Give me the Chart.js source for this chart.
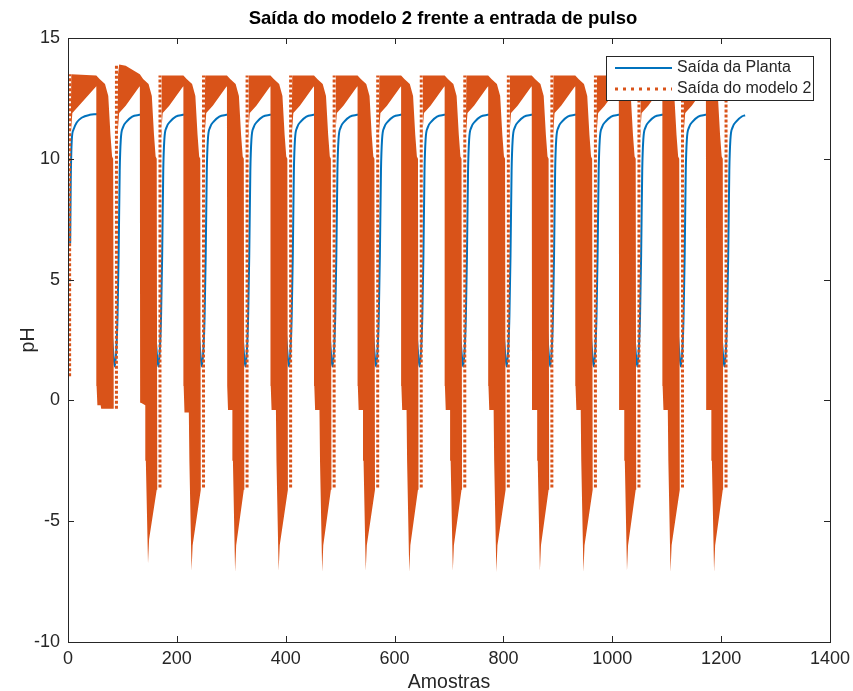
<!DOCTYPE html>
<html>
<head>
<meta charset="utf-8">
<script src="https://cdn.jsdelivr.net/npm/chart.js@4.4.1/dist/chart.umd.min.js"></script>
<style>
  html, body { margin: 0; padding: 0; background: #fff; }
  canvas { display: block; }
</style>
</head>
<body>
<canvas id="grafico" width="853" height="691"></canvas>
<script>
// Eixos
const ticksX = [0, 200, 400, 600, 800, 1000, 1200, 1400];
const ticksY = [-10, -5, 0, 5, 10, 15];

// Saída da Planta (amostra, pH), um ciclo por linha
const plantaX = [
  4, 5, 7, 10, 16, 25, 40, 59, 63, 67, 71, 75, 79, 83,
  86, 89, 91, 93, 95, 97, 101, 108, 118, 131, 139, 143, 147, 151, 155, 159, 163,
  166, 169, 171, 173, 175, 177, 181, 188, 198, 211, 219, 223, 227, 231, 235, 239, 243,
  246, 249, 251, 253, 255, 257, 261, 268, 278, 291, 299, 303, 307, 311, 315, 319, 323,
  326, 329, 331, 333, 335, 337, 341, 348, 358, 371, 379, 383, 387, 391, 395, 399, 403,
  406, 409, 411, 413, 415, 417, 421, 428, 438, 451, 459, 463, 467, 471, 475, 479, 483,
  486, 489, 491, 493, 495, 497, 501, 508, 518, 531, 539, 543, 547, 551, 555, 559, 563,
  566, 569, 571, 573, 575, 577, 581, 588, 598, 611, 619, 623, 627, 631, 635, 639, 643,
  646, 649, 651, 653, 655, 657, 661, 668, 678, 691, 699, 703, 707, 711, 715, 719, 723,
  726, 729, 731, 733, 735, 737, 741, 748, 758, 771, 779, 783, 787, 791, 795, 799, 803,
  806, 809, 811, 813, 815, 817, 821, 828, 838, 851, 859, 863, 867, 871, 875, 879, 883,
  886, 889, 891, 893, 895, 897, 901, 908, 918, 931, 939, 943, 947, 951, 955, 959, 963,
  966, 969, 971, 973, 975, 977, 981, 988, 998, 1011, 1019, 1023, 1027, 1031, 1035, 1039, 1043,
  1046, 1049, 1051, 1053, 1055, 1057, 1061, 1068, 1078, 1091, 1099, 1103, 1107, 1111, 1115, 1119, 1123,
  1126, 1129, 1131, 1133, 1135, 1137, 1141, 1148, 1158, 1171, 1179, 1183, 1187, 1191, 1195, 1199, 1203,
  1206, 1209, 1211, 1213, 1215, 1217, 1221, 1228, 1238, 1244
];
const plantaY = [
  6.5, 9.0, 10.8, 11.2, 11.5, 11.7, 11.82, 11.85, 11.3, 10.0, 8.0, 5.5, 3.3, 2.0,
  1.4, 2.2, 3.5, 6.0, 9.5, 10.8, 11.3, 11.55, 11.75, 11.82, 11.85, 11.3, 10.0, 8.0, 5.5, 3.3, 2.0,
  1.4, 2.2, 3.5, 6.0, 9.5, 10.8, 11.3, 11.55, 11.75, 11.82, 11.85, 11.3, 10.0, 8.0, 5.5, 3.3, 2.0,
  1.4, 2.2, 3.5, 6.0, 9.5, 10.8, 11.3, 11.55, 11.75, 11.82, 11.85, 11.3, 10.0, 8.0, 5.5, 3.3, 2.0,
  1.4, 2.2, 3.5, 6.0, 9.5, 10.8, 11.3, 11.55, 11.75, 11.82, 11.85, 11.3, 10.0, 8.0, 5.5, 3.3, 2.0,
  1.4, 2.2, 3.5, 6.0, 9.5, 10.8, 11.3, 11.55, 11.75, 11.82, 11.85, 11.3, 10.0, 8.0, 5.5, 3.3, 2.0,
  1.4, 2.2, 3.5, 6.0, 9.5, 10.8, 11.3, 11.55, 11.75, 11.82, 11.85, 11.3, 10.0, 8.0, 5.5, 3.3, 2.0,
  1.4, 2.2, 3.5, 6.0, 9.5, 10.8, 11.3, 11.55, 11.75, 11.82, 11.85, 11.3, 10.0, 8.0, 5.5, 3.3, 2.0,
  1.4, 2.2, 3.5, 6.0, 9.5, 10.8, 11.3, 11.55, 11.75, 11.82, 11.85, 11.3, 10.0, 8.0, 5.5, 3.3, 2.0,
  1.4, 2.2, 3.5, 6.0, 9.5, 10.8, 11.3, 11.55, 11.75, 11.82, 11.85, 11.3, 10.0, 8.0, 5.5, 3.3, 2.0,
  1.4, 2.2, 3.5, 6.0, 9.5, 10.8, 11.3, 11.55, 11.75, 11.82, 11.85, 11.3, 10.0, 8.0, 5.5, 3.3, 2.0,
  1.4, 2.2, 3.5, 6.0, 9.5, 10.8, 11.3, 11.55, 11.75, 11.82, 11.85, 11.3, 10.0, 8.0, 5.5, 3.3, 2.0,
  1.4, 2.2, 3.5, 6.0, 9.5, 10.8, 11.3, 11.55, 11.75, 11.82, 11.85, 11.3, 10.0, 8.0, 5.5, 3.3, 2.0,
  1.4, 2.2, 3.5, 6.0, 9.5, 10.8, 11.3, 11.55, 11.75, 11.82, 11.85, 11.3, 10.0, 8.0, 5.5, 3.3, 2.0,
  1.4, 2.2, 3.5, 6.0, 9.5, 10.8, 11.3, 11.55, 11.75, 11.82, 11.85, 11.3, 10.0, 8.0, 5.5, 3.3, 2.0,
  1.4, 2.2, 3.5, 6.0, 9.5, 10.8, 11.3, 11.55, 11.75, 11.8
];

// Saída do modelo 2: a oscilação é tão densa que vira faixa - envelope superior
const modeloTopoX = [
  5, 6, 52, 58, 68, 74, 78, 81, 83, 84,
  91, 92, 94, 106, 132, 138, 148, 154, 158, 161, 163, 164,
  171, 172, 212, 218, 228, 234, 238, 241, 243, 244,
  251, 252, 292, 298, 308, 314, 318, 321, 323, 324,
  331, 332, 372, 378, 388, 394, 398, 401, 403, 404,
  411, 412, 452, 458, 468, 474, 478, 481, 483, 484,
  491, 492, 532, 538, 548, 554, 558, 561, 563, 564,
  571, 572, 612, 618, 628, 634, 638, 641, 643, 644,
  651, 652, 692, 698, 708, 714, 718, 721, 723, 724,
  731, 732, 772, 778, 788, 794, 798, 801, 803, 804,
  811, 812, 852, 858, 868, 874, 878, 881, 883, 884,
  891, 892, 932, 938, 948, 954, 958, 961, 963, 964,
  971, 972, 1012, 1018, 1028, 1034, 1038, 1041, 1043, 1044,
  1051, 1052, 1092, 1098, 1108, 1114, 1118, 1121, 1123, 1124,
  1131, 1132, 1172, 1178, 1188, 1194, 1198, 1201, 1203, 1204
];
const modeloTopoY = [
  11.0, 13.5, 13.45, 13.3, 13.1, 12.6, 11.0, 10.1, 10.0, -0.35,
  11.0, 13.5, 13.9, 13.85, 13.5, 13.3, 13.1, 12.6, 11.0, 10.1, 10.0, -3.7,
  11.0, 13.45, 13.45, 13.3, 13.1, 12.6, 11.0, 10.1, 10.0, -3.7,
  11.0, 13.45, 13.45, 13.3, 13.1, 12.6, 11.0, 10.1, 10.0, -3.7,
  11.0, 13.45, 13.45, 13.3, 13.1, 12.6, 11.0, 10.1, 10.0, -3.7,
  11.0, 13.45, 13.45, 13.3, 13.1, 12.6, 11.0, 10.1, 10.0, -3.7,
  11.0, 13.45, 13.45, 13.3, 13.1, 12.6, 11.0, 10.1, 10.0, -3.7,
  11.0, 13.45, 13.45, 13.3, 13.1, 12.6, 11.0, 10.1, 10.0, -3.7,
  11.0, 13.45, 13.45, 13.3, 13.1, 12.6, 11.0, 10.1, 10.0, -3.7,
  11.0, 13.45, 13.45, 13.3, 13.1, 12.6, 11.0, 10.1, 10.0, -3.7,
  11.0, 13.45, 13.45, 13.3, 13.1, 12.6, 11.0, 10.1, 10.0, -3.7,
  11.0, 13.45, 13.45, 13.3, 13.1, 12.6, 11.0, 10.1, 10.0, -3.7,
  11.0, 13.45, 13.45, 13.3, 13.1, 12.6, 11.0, 10.1, 10.0, -3.7,
  11.0, 13.45, 13.45, 13.3, 13.1, 12.6, 11.0, 10.1, 10.0, -3.7,
  11.0, 13.45, 13.45, 13.3, 13.1, 12.6, 11.0, 10.1, 10.0, -3.7
];

// envelope inferior (com as pontas de cerca de -7)
const modeloBaseX = [
  5, 8, 20, 50, 52, 52.5, 54, 60, 61, 83, 84,
  91, 94, 106, 130, 132, 132.5, 134, 142, 143, 147, 149, 163, 164,
  171, 174, 186, 210, 212, 212.5, 214, 222, 223, 227, 229, 243, 244,
  251, 254, 266, 290, 292, 292.5, 294, 302, 303, 307, 309, 323, 324,
  331, 334, 346, 370, 372, 372.5, 374, 382, 383, 387, 389, 403, 404,
  411, 414, 426, 450, 452, 452.5, 454, 462, 463, 467, 469, 483, 484,
  491, 494, 506, 530, 532, 532.5, 534, 542, 543, 547, 549, 563, 564,
  571, 574, 586, 610, 612, 612.5, 614, 622, 623, 627, 629, 643, 644,
  651, 654, 666, 690, 692, 692.5, 694, 702, 703, 707, 709, 723, 724,
  731, 734, 746, 770, 772, 772.5, 774, 782, 783, 787, 789, 803, 804,
  811, 814, 826, 850, 852, 852.5, 854, 862, 863, 867, 869, 883, 884,
  891, 894, 906, 930, 932, 932.5, 934, 942, 943, 947, 949, 963, 964,
  971, 974, 986, 1010, 1012, 1012.5, 1014, 1022, 1023, 1027, 1029, 1043, 1044,
  1051, 1054, 1066, 1090, 1092, 1092.5, 1094, 1102, 1103, 1107, 1109, 1123, 1124,
  1131, 1134, 1146, 1170, 1172, 1172.5, 1174, 1182, 1183, 1187, 1189, 1203, 1204
];
const modeloBaseY = [
  11.0, 11.9, 12.2, 12.95, 13.0, 0.6, -0.2, -0.2, -0.35, -0.35, -0.35,
  11.0, 11.9, 12.2, 12.95, 13.0, 0.6, -0.1, -0.2, -2.5, -6.75, -5.75, -3.7, -3.7,
  11.0, 11.9, 12.2, 12.95, 13.0, 0.6, -0.5, -0.5, -2.5, -7.05, -6.0, -3.7, -3.7,
  11.0, 11.9, 12.2, 12.95, 13.0, 0.6, -0.4, -0.4, -2.5, -7.1, -6.0, -3.7, -3.7,
  11.0, 11.9, 12.2, 12.95, 13.0, 0.6, -0.4, -0.4, -2.5, -7.05, -6.0, -3.7, -3.7,
  11.0, 11.9, 12.2, 12.95, 13.0, 0.6, -0.4, -0.4, -2.5, -7.1, -6.0, -3.7, -3.7,
  11.0, 11.9, 12.2, 12.95, 13.0, 0.6, -0.4, -0.4, -2.5, -7.05, -6.0, -3.7, -3.7,
  11.0, 11.9, 12.2, 12.95, 13.0, 0.6, -0.4, -0.4, -2.5, -7.1, -6.0, -3.7, -3.7,
  11.0, 11.9, 12.2, 12.95, 13.0, 0.6, -0.4, -0.4, -2.5, -7.05, -6.0, -3.7, -3.7,
  11.0, 11.9, 12.2, 12.95, 13.0, 0.6, -0.4, -0.4, -2.5, -7.1, -6.0, -3.7, -3.7,
  11.0, 11.9, 12.2, 12.95, 13.0, 0.6, -0.4, -0.4, -2.5, -7.05, -6.0, -3.7, -3.7,
  11.0, 11.9, 12.2, 12.95, 13.0, 0.6, -0.4, -0.4, -2.5, -7.1, -6.0, -3.7, -3.7,
  11.0, 11.9, 12.2, 12.95, 13.0, 0.6, -0.4, -0.4, -2.5, -7.05, -6.0, -3.7, -3.7,
  11.0, 11.9, 12.2, 12.95, 13.0, 0.6, -0.4, -0.4, -2.5, -7.1, -6.0, -3.7, -3.7,
  11.0, 11.9, 12.2, 12.95, 13.0, 0.6, -0.4, -0.4, -2.5, -7.1, -6.0, -3.7, -3.7
];

// subidas pontilhadas do modelo no início de cada pulso
const subidaX = [3, 89, 169, 249, 329, 409, 489, 569, 649, 729, 809, 889, 969, 1049, 1129, 1209];
const subidaBase = [1.0, -0.35, -3.6, -3.6, -3.6, -3.6, -3.6, -3.6, -3.6, -3.6, -3.6, -3.6, -3.6, -3.6, -3.6, -3.6];
const subidaTopo = [13.5, 13.9, 13.45, 13.45, 13.45, 13.45, 13.45, 13.45, 13.45, 13.45, 13.45, 13.45, 13.45, 13.45, 13.45, 12.5];

const titulo = 'Saída do modelo 2 frente a entrada de pulso';
const nomesSeries = ['Saída da Planta', 'Saída do modelo 2'];

const AZUL = '#0072BD';
const LARANJA = '#D95319';
const EIXO = '#262626';
const FONTE = "'Liberation Sans', Arial, Helvetica, sans-serif";

Chart.defaults.font.family = FONTE;

const pares = (xs, ys) => xs.map((x, i) => ({ x: x, y: ys[i] }));
const subidas = [];
subidaX.forEach((x, i) => {
  subidas.push({ x: x, y: subidaBase[i] }, { x: x, y: subidaTopo[i] }, { x: x + 0.5, y: null });
});

// caixa do eixo com ticks para dentro (estilo MATLAB), título e legenda
const molduraPlugin = {
  id: 'moldura',
  afterDraw(chart) {
    const { ctx, chartArea: a, scales } = chart;
    ctx.save();
    ctx.strokeStyle = EIXO;
    ctx.lineWidth = 1;
    ctx.strokeRect(Math.round(a.left) + 0.5, Math.round(a.top) + 0.5,
      Math.round(a.right - a.left), Math.round(a.bottom - a.top));
    ctx.beginPath();
    ticksX.forEach(v => {
      const px = Math.round(scales.x.getPixelForValue(v)) + 0.5;
      ctx.moveTo(px, a.bottom); ctx.lineTo(px, a.bottom - 6);
      ctx.moveTo(px, a.top); ctx.lineTo(px, a.top + 6);
    });
    ticksY.forEach(v => {
      const py = Math.round(scales.y.getPixelForValue(v)) + 0.5;
      ctx.moveTo(a.left, py); ctx.lineTo(a.left + 6, py);
      ctx.moveTo(a.right, py); ctx.lineTo(a.right - 6, py);
    });
    ctx.stroke();

    // título
    ctx.fillStyle = '#000';
    ctx.font = 'bold 18.5px ' + FONTE;
    ctx.textAlign = 'center';
    ctx.textBaseline = 'middle';
    ctx.fillText(titulo, 443, 19);

    // legenda
    const lx = 606.5, ly = 56.5, lw = 207, lh = 44;
    ctx.fillStyle = '#fff';
    ctx.fillRect(lx, ly, lw, lh);
    ctx.strokeStyle = EIXO;
    ctx.strokeRect(lx, ly, lw, lh);
    ctx.lineWidth = 2;
    ctx.strokeStyle = AZUL;
    ctx.beginPath(); ctx.moveTo(615, 68); ctx.lineTo(672, 68); ctx.stroke();
    ctx.lineWidth = 3;
    ctx.strokeStyle = LARANJA;
    ctx.setLineDash([3, 5]);
    ctx.beginPath(); ctx.moveTo(615, 89); ctx.lineTo(672, 89); ctx.stroke();
    ctx.setLineDash([]);
    ctx.fillStyle = EIXO;
    ctx.font = '16px ' + FONTE;
    ctx.textAlign = 'left';
    ctx.fillText(nomesSeries[0], 677, 68);
    ctx.fillText(nomesSeries[1], 677, 89);
    ctx.restore();
  }
};

new Chart(document.getElementById('grafico'), {
  type: 'line',
  data: {
    datasets: [
      {
        label: nomesSeries[0],
        data: pares(plantaX, plantaY),
        borderColor: AZUL,
        borderWidth: 2,
        pointRadius: 0,
        cubicInterpolationMode: 'monotone',
        fill: false,
        order: 3
      },
      {
        label: nomesSeries[1],
        data: pares(modeloTopoX, modeloTopoY),
        borderColor: 'rgba(0,0,0,0)',
        borderWidth: 0,
        backgroundColor: LARANJA,
        pointRadius: 0,
        fill: '+1',
        order: 2
      },
      {
        label: 'base',
        data: pares(modeloBaseX, modeloBaseY),
        borderColor: 'rgba(0,0,0,0)',
        borderWidth: 0,
        pointRadius: 0,
        fill: false,
        order: 2
      },
      {
        label: 'subida',
        data: subidas,
        borderColor: LARANJA,
        borderWidth: 3,
        borderDash: [3, 2],
        pointRadius: 0,
        spanGaps: false,
        fill: false,
        order: 1
      }
    ]
  },
  options: {
    responsive: false,
    animation: false,
    devicePixelRatio: 1,
    layout: { padding: { top: 38, right: 23, left: 0, bottom: 0 } },
    plugins: {
      legend: { display: false },
      title: { display: false },
      tooltip: { enabled: false }
    },
    scales: {
      x: {
        type: 'linear',
        min: 0,
        max: 1400,
        afterBuildTicks: s => { s.ticks = ticksX.map(v => ({ value: v })); },
        afterFit: s => { s.height = 49; s.paddingLeft = 0; s.paddingRight = 0; },
        grid: { display: false, drawTicks: false },
        border: { display: false },
        ticks: { color: EIXO, font: { size: 18 }, padding: 6, maxRotation: 0, autoSkip: false, callback: v => String(v) },
        title: { display: true, text: 'Amostras', color: EIXO, font: { size: 19.5 }, padding: { top: 0, bottom: -3 } }
      },
      y: {
        type: 'linear',
        min: -10,
        max: 15,
        afterBuildTicks: s => { s.ticks = ticksY.map(v => ({ value: v })); },
        afterFit: s => { s.width = 68; s.paddingTop = 0; s.paddingBottom = 0; },
        grid: { display: false, drawTicks: false },
        border: { display: false },
        ticks: { color: EIXO, font: { size: 18 }, padding: 8, autoSkip: false, callback: v => String(v) },
        title: { display: true, text: 'pH', color: EIXO, font: { size: 19.5 }, padding: { top: 17, bottom: 0 } }
      }
    }
  },
  plugins: [molduraPlugin]
});
</script>
</body>
</html>
